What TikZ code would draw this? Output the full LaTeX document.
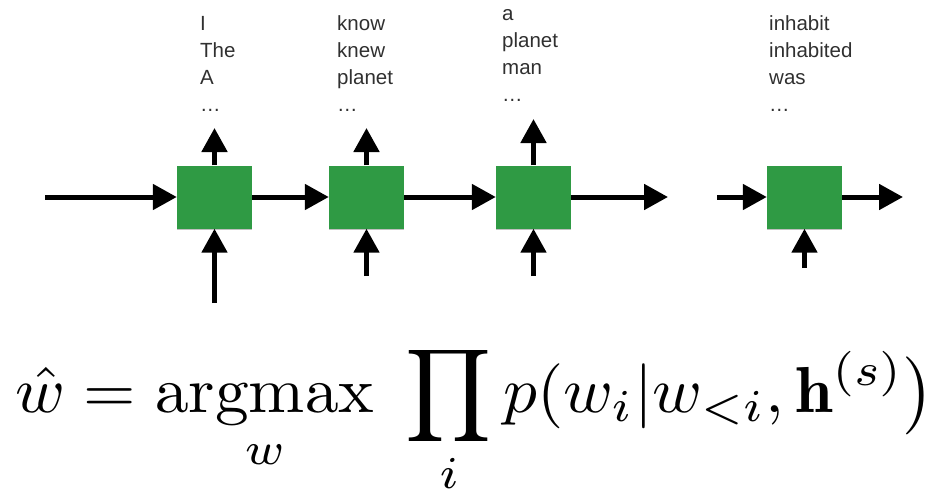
\documentclass[tikz,border=0pt]{standalone}
\usepackage{amsmath}
\usepackage{fontspec}
\newfontfamily\labelfont{Liberation Sans}
\usetikzlibrary{arrows.meta,shadows}
\definecolor{cellgreen}{HTML}{2F9A44}
\definecolor{wordgray}{HTML}{303030}
\tikzset{
  cell/.style={fill=cellgreen, minimum width=75pt, minimum height=63pt, inner sep=0pt,
    drop shadow={shadow xshift=0pt, shadow yshift=-1.5pt, opacity=0.25, fill=black}},
  flow/.style={line width=5pt, -{Triangle[length=24pt,width=25pt]}},
  word/.style={anchor=base west, inner sep=0pt, font=\labelfont\fontsize{20.5}{24}\selectfont, text=wordgray}
}
\begin{document}
\begin{tikzpicture}[x=1pt,y=-1pt]
\useasboundingbox (0,0) rectangle (944,492);
% cells
\node[cell] (c1) at (214.5,197) {};
\node[cell] (c2) at (366.5,197) {};
\node[cell] (c3) at (533.5,197) {};
\node[cell] (c4) at (804.5,197) {};
% free ends
\coordinate (s0) at (45,197);
\coordinate (e3) at (668,197);
\coordinate (s4) at (717,197);
\coordinate (e4) at (903,197);
\coordinate (u1) at (214.5,128);
\coordinate (u2) at (366.5,128);
\coordinate (u3) at (533.5,119);
\coordinate (b1) at (214.5,303);
\coordinate (b2) at (366.5,276);
\coordinate (b3) at (533.5,276);
\coordinate (b4) at (804.5,268);
% horizontal flow
\draw[flow] (s0) -- (c1.west);
\draw[flow] (c1.east) -- (c2.west);
\draw[flow] (c2.east) -- (c3.west);
\draw[flow] (c3.east) -- (e3);
\draw[flow] (s4) -- (c4.west);
\draw[flow] (c4.east) -- (e4);
% outputs
\draw[flow] (c1.north) -- (u1);
\draw[flow] (c2.north) -- (u2);
\draw[flow] (c3.north) -- (u3);
% inputs
\draw[flow] (b1) -- (c1.south);
\draw[flow] (b2) -- (c2.south);
\draw[flow] (b3) -- (c3.south);
\draw[flow] (b4) -- (c4.south);
% word candidates
\node[word] (w11) at (200,31) {I};
\node[word] (w12) at (200,58) {The};
\node[word] (w13) at (200,85) {A};
\node[word] (w14) at (200,112) {…};
\node[word] (w21) at (337,31) {know};
\node[word] (w22) at (337,58) {knew};
\node[word] (w23) at (337,85) {planet};
\node[word] (w24) at (337,112) {…};
\node[word] (w31) at (502,21) {a};
\node[word] (w32) at (502,48) {planet};
\node[word] (w33) at (502,75) {man};
\node[word] (w34) at (502,102) {…};
\node[word] (w41) at (769,31) {inhabit};
\node[word] (w42) at (769,58) {inhabited};
\node[word] (w43) at (769,85) {was};
\node[word] (w44) at (769,112) {…};
% formula
\node[anchor=base west, inner sep=0pt] (eq) at (15,412) {\scalebox{6.74}[6.5]{$\displaystyle \hat{w} = \mathop{\mathrm{argmax}}\limits_{w}\hspace{0.3em} \prod_i p(w_i|w_{<i},\mathbf{h}^{(s)}\big)$}};
\end{tikzpicture}
\end{document}
